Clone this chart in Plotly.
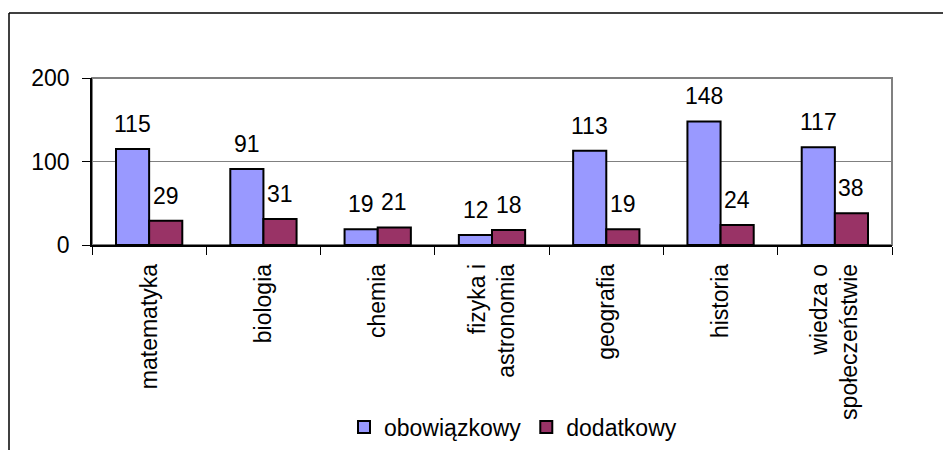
import plotly.graph_objects as go

# --- data ---
przedmioty = ['matematyka', 'biologia', 'chemia', 'fizyka i<br>astronomia',
              'geografia', 'historia', 'wiedza o<br>społeczeństwie']
obowiazkowy = [115, 91, 19, 12, 113, 148, 117]
dodatkowy = [29, 31, 21, 18, 19, 24, 38]
y_ticks = [0, 100, 200]

FONT = 'Liberation Sans, Arial, sans-serif'
FS = 23
W, H = 951, 450
# the page body adds an 8px offset, so everything is laid out 8px up/left
OFF = 8
L, T = 92 - OFF, 78 - OFF
R, B = W - (892 - OFF), H - (245 - OFF)
plot_w, plot_h = W - L - R, H - T - B

fig = go.Figure()
fig.add_trace(go.Bar(
    x=przedmioty, y=obowiazkowy, name='obowiązkowy',
    marker=dict(color='#9999FF', line=dict(color='black', width=2)),
))
fig.add_trace(go.Bar(
    x=przedmioty, y=dodatkowy, name='dodatkowy',
    marker=dict(color='#993366', line=dict(color='black', width=2)),
))

# value labels above bars (Excel style, floating a bit above)
ann = []
for cat, v1, v2 in zip(przedmioty, obowiazkowy, dodatkowy):
    for val, shift in ((v1, -16.5), (v2, 16.5)):
        ann.append(dict(x=cat, y=val, text=str(val), showarrow=False,
                        xshift=shift, yshift=25, yanchor='middle',
                        font=dict(family=FONT, size=FS, color='black')))

# plot-area border (grey) + outer chart frame (black)
top = (plot_h + T - (13 - OFF)) / plot_h
left = ((9 - OFF) - L) / plot_w
shapes = [
    dict(type='rect', xref='x domain', yref='y domain', x0=0, x1=1, y0=0, y1=1,
         line=dict(color='#808080', width=2), layer='below'),
    dict(type='line', xref='paper', yref='paper', x0=left, x1=left,
         y0=top, y1=-3, line=dict(color='black', width=1.5)),
    dict(type='line', xref='paper', yref='paper', x0=left, x1=1.2,
         y0=top, y1=top, line=dict(color='black', width=1.5)),
]

fig.update_layout(
    width=W, height=H,
    margin=dict(l=L, r=R, t=T, b=B, autoexpand=False),
    paper_bgcolor='white', plot_bgcolor='white',
    font=dict(family=FONT, size=FS, color='black'),
    barmode='group', bargap=0.42, bargroupgap=0,
    annotations=ann, shapes=shapes,
    legend=dict(orientation='h', xref='container', yref='container',
                x=505 / W, xanchor='center', y=(H - 419) / H,
                yanchor='middle', font=dict(family=FONT, size=FS),
                itemwidth=30, tracegroupgap=0),
    xaxis=dict(type='category', tickangle=-90, ticks='outside',
               tickson='boundaries', ticklen=8, tickcolor='black',
               showline=True, linecolor='black', linewidth=1.5,
               showgrid=False, ticklabelstandoff=8, automargin=False,
               tickfont=dict(family=FONT, size=FS)),
    yaxis=dict(range=[0, 200], tickvals=y_ticks, ticks='outside', ticklen=8,
               tickcolor='black', showline=True, linecolor='black',
               linewidth=1.5, showgrid=True, gridcolor='#808080',
               gridwidth=1.2, zeroline=False, ticklabelstandoff=8,
               automargin=False, tickfont=dict(family=FONT, size=FS)),
)

fig.write_html("out.html")
